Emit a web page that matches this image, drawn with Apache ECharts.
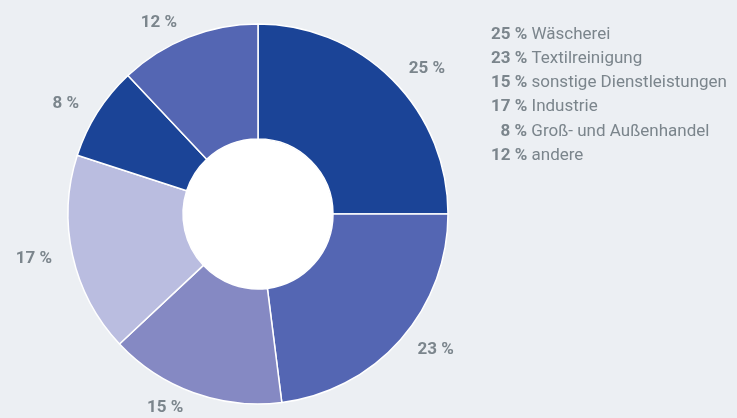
<!DOCTYPE html>
<html><head><meta charset="utf-8">
<script src="https://cdn.jsdelivr.net/npm/echarts@6/dist/echarts.min.js"></script>
<style>html,body{margin:0;padding:0;background:#eceff3}#c{width:737px;height:418px}</style>
</head><body><div id="c"></div>
<script>
var categories = ['Wäscherei','Textilreinigung','sonstige Dienstleistungen','Industrie','Groß- und Außenhandel','andere'];
var values = [25,23,15,17,8,12];
var colors = ['#1b4497','#5466b3','#8589c3','#babde0','#1b4497','#5466b3'];

var chart = echarts.init(document.getElementById('c'));
var data = categories.map(function(n,i){return {name:n,value:values[i],itemStyle:{color:colors[i]}};});
chart.setOption({
  backgroundColor:'#eceff3',
  animation:false,
  legend:{
    data:categories,
    orient:'vertical', left:481, top:21, icon:'none', itemWidth:0, itemHeight:16, itemGap:7.2,
    selectedMode:false,
    formatter:function(name){var i=categories.indexOf(name);var v=values[i];
      return '{p|'+(v<10?'\u2007':'')+v+' %} {t|'+name+'}';},
    textStyle:{fontFamily:'Roboto',fontSize:17,color:'#7b858c',rich:{
      p:{fontFamily:'Roboto',fontWeight:'bold',fontSize:17,color:'#7b858c'},
      t:{fontFamily:'Roboto',fontSize:17,color:'#7b858c'}
    }}
  },
  series:[
    {type:'pie',center:[258,214],radius:[0,76],silent:true,label:{show:false},labelLine:{show:false},
     data:[{value:1,name:'_bg',itemStyle:{color:'#ffffff'}}],z:1},
    {type:'pie',center:[258,214],radius:[75,190],startAngle:90,clockwise:true,
     itemStyle:{borderColor:'#ffffff',borderWidth:1.5},
     label:{show:true,position:'outside',formatter:'{c} %',fontFamily:'Roboto',fontWeight:'bold',fontSize:17,color:'#7b858c'},
     labelLine:{show:false,length:16,length2:0},
     data:data,z:2}
  ]
});
</script></body></html>
